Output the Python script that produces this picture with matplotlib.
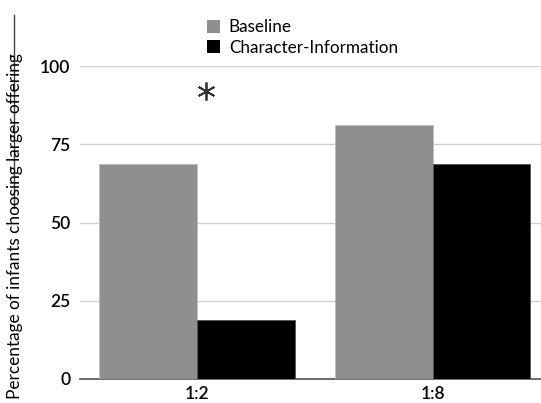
import matplotlib
matplotlib.use('Agg')
import matplotlib.pyplot as plt
from matplotlib.lines import Line2D
from matplotlib.patches import Patch
import numpy as np

plt.rcParams['font.family'] = ['Lato', 'DejaVu Sans']

groups = ['1:2', '1:8']
series = ['Baseline', 'Character-Information']
baseline = [68.75, 81.25]
character = [18.75, 68.75]
colors = ['#8f8f8f', '#000000']
yticks = [0, 25, 50, 75, 100]

fig = plt.figure(figsize=(5.41, 4.03), dpi=100)
ax = fig.add_axes([0.148, 0.0596, 0.852, 0.7764])

x = np.arange(len(groups))
w = 0.415
ax.bar(x - w / 2, baseline, w, color=colors[0], edgecolor='#bdbdbd', linewidth=0.6, zorder=3)
ax.bar(x + w / 2, character, w, color=colors[1], edgecolor='#555555', linewidth=0.6, zorder=3)

ax.set_xlim(-0.496, 1.46)
ax.set_ylim(0, 100)
ax.set_yticks(yticks)
ax.set_yticklabels([str(t) for t in yticks], fontsize=12.5, fontweight='semibold')
ax.set_xticks(x)
ax.set_xticklabels(groups, fontsize=12.5, fontweight='semibold')
ax.tick_params(axis='y', length=0, pad=7)
ax.tick_params(axis='x', length=0, pad=5)
ax.yaxis.grid(True, color='#d0d0d0', linewidth=1)
ax.set_axisbelow(True)
for s in ['top', 'right', 'left']:
    ax.spines[s].set_visible(False)
ax.spines['bottom'].set_color('#555555')
ax.spines['bottom'].set_linewidth(1.2)

fig.text(0.028, 0.44, 'Percentage of infants choosing larger offering', rotation=90,
         va='center', ha='center', fontsize=12.4)

# significance marker
ax.plot([0.04], [92], marker=(6, 2, 0), markersize=13, color='#333333', markeredgewidth=1.3)

handles = [Patch(facecolor=c, edgecolor='none') for c in colors]
fig.legend(handles, series, loc='upper left', bbox_to_anchor=(0.355, 0.99), frameon=False,
           fontsize=12.3, handlelength=0.75, handleheight=0.75, handletextpad=0.5, labelspacing=0.25)

# stray vertical rule at left edge
fig.add_artist(Line2D([0.026, 0.026], [0.485, 0.963], color='#444444', linewidth=1, transform=fig.transFigure))

fig.savefig('out.png', dpi=100)
